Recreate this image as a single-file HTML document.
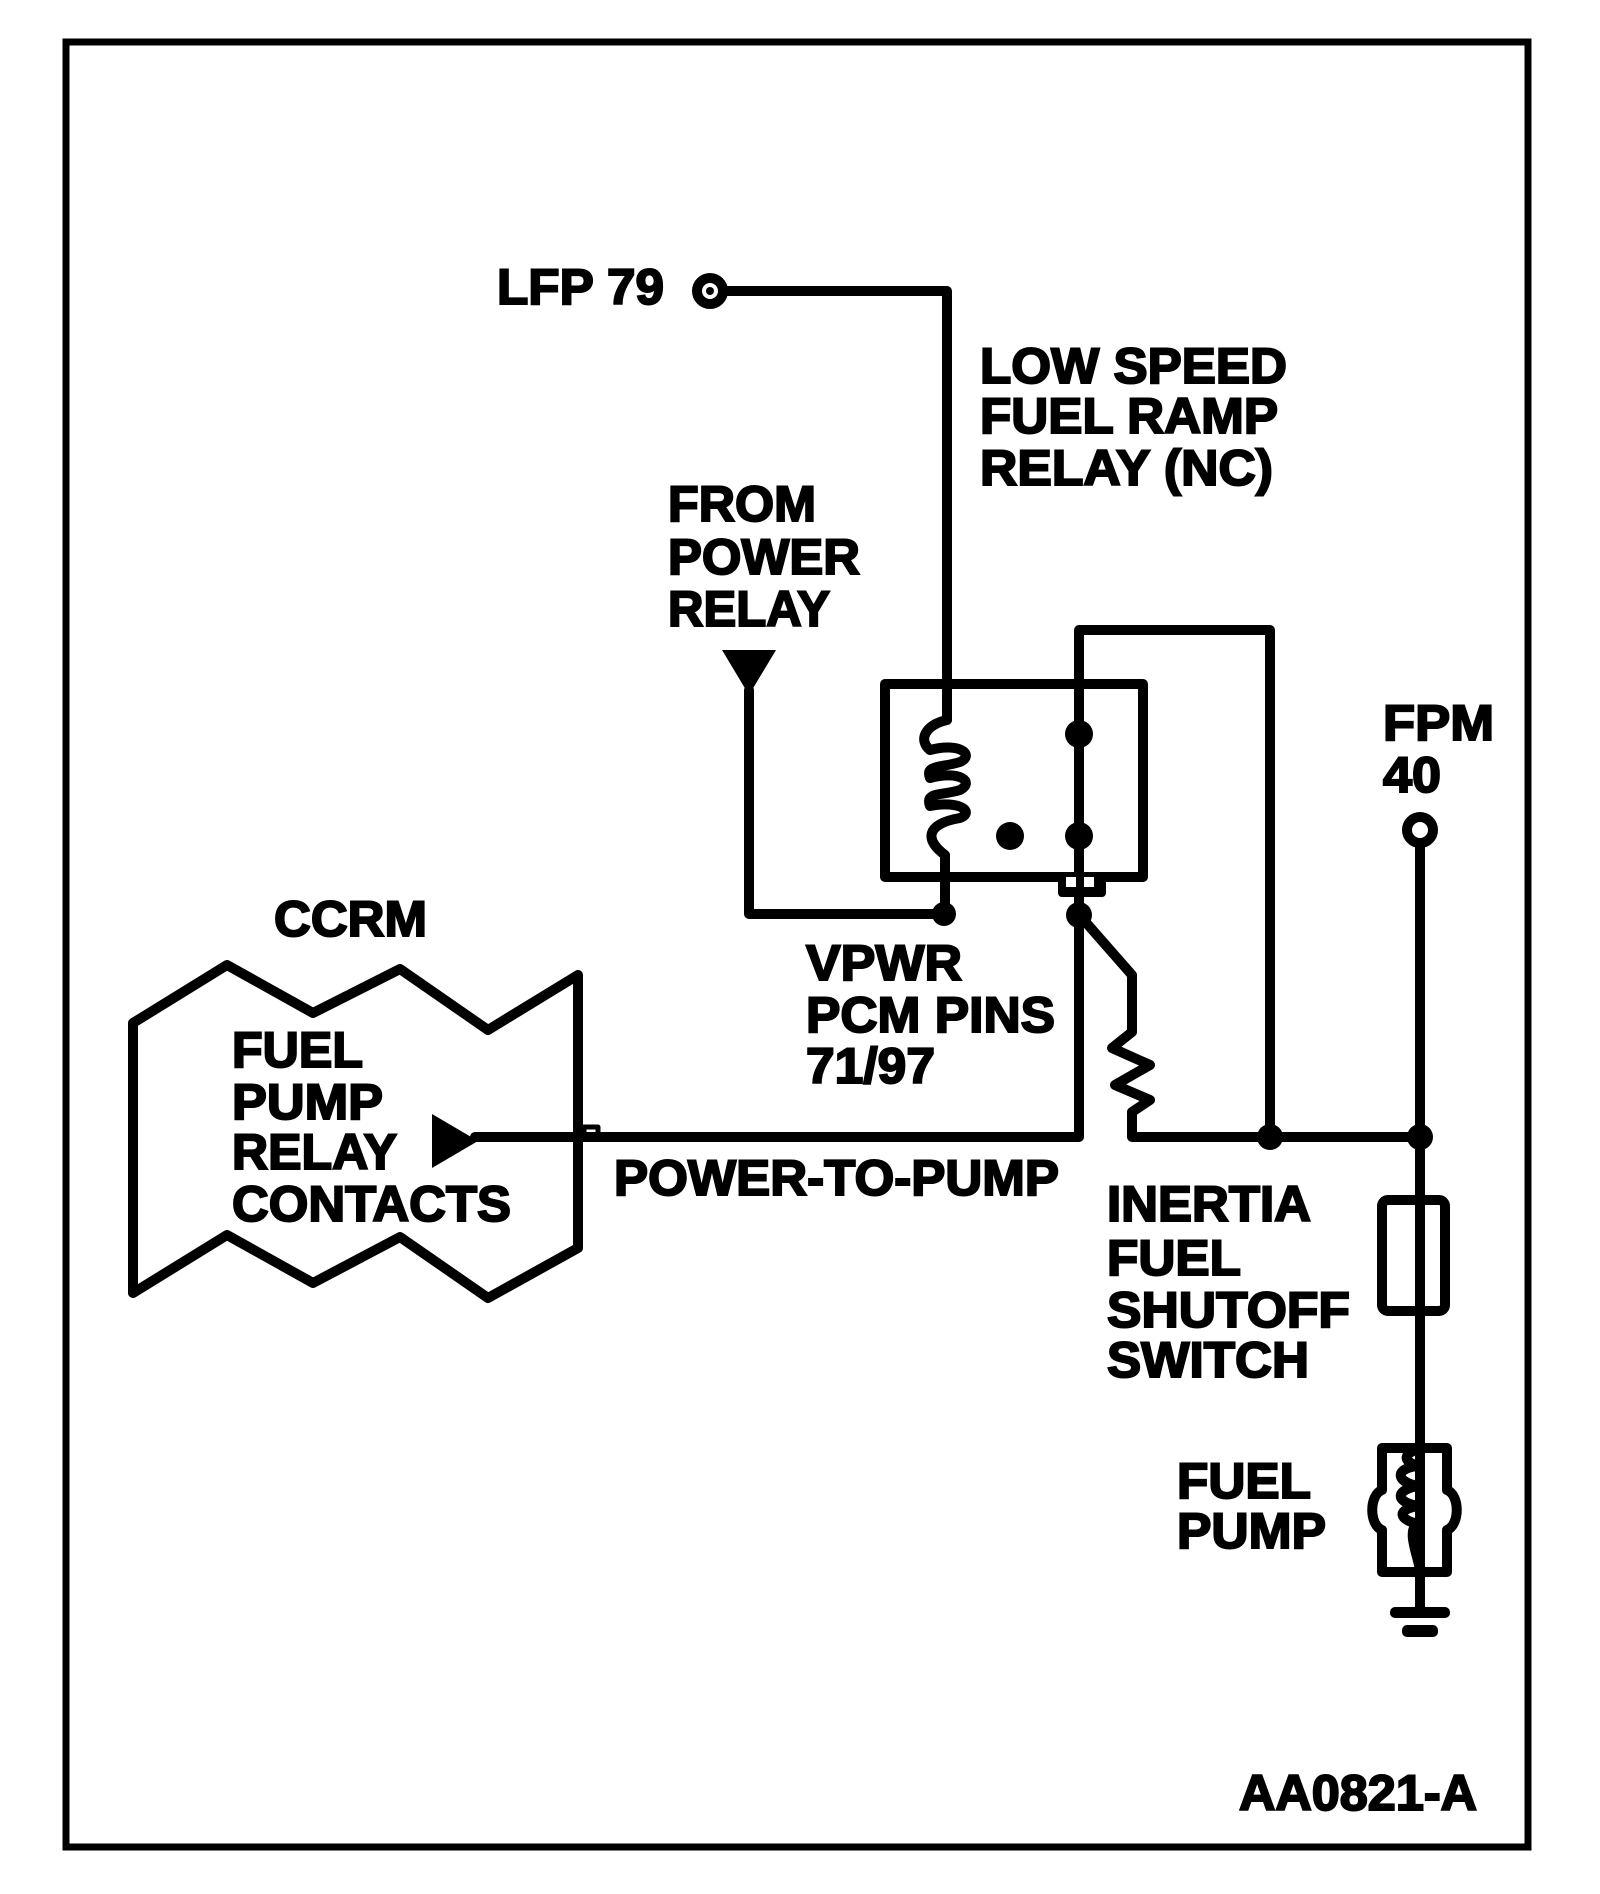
<!DOCTYPE html>
<html><head><meta charset="utf-8"><style>
html,body{margin:0;padding:0;background:#fff}
svg{display:block}
text{font-family:"Liberation Sans",sans-serif;font-weight:bold;font-size:50px;fill:#000;stroke:#000;stroke-width:2}
</style></head><body>
<svg width="1600" height="1894" viewBox="0 0 1600 1894" xmlns="http://www.w3.org/2000/svg">
<rect width="1600" height="1894" fill="#fff"/>
<rect x="66" y="42" width="1462" height="1805" fill="none" stroke="#000" stroke-width="7"/>
<g fill="none" stroke="#000" stroke-width="10" stroke-linejoin="round" stroke-linecap="round">
<circle cx="710" cy="291" r="13"/>
<path d="M723 291 H947 V720"/>
<path d="M947 720 C925 725 918 740 930 750 C960 742 975 755 960 762 C940 768 925 765 930 778 C960 770 975 782 960 790 C940 796 925 792 930 806 C960 800 975 812 960 818 C925 824 925 840 945 855 V914"/>
<rect x="885" y="684" width="258" height="193"/>
<path d="M749 690 V914 H944"/>
<path d="M1079 915 V630 H1270 V1137"/>
<path d="M1079 915 V1137 H475"/>
<path d="M1082 918 L1132 975 V1032 L1112 1048 L1150 1065 L1115 1085 L1150 1100 L1132 1112 V1137 H1420"/>
<circle cx="1420" cy="830" r="13"/>
<path d="M1420 843 V1612"/>
<rect x="1382" y="1200" width="63" height="111" rx="6"/>
<path d="M1382 1448 H1447 V1490 C1460 1495 1460 1525 1447 1530 V1572 H1382 V1530 C1369 1525 1369 1495 1382 1490 Z"/>
<path d="M1420 1448 C1400 1455 1405 1462 1418 1466 C1395 1468 1395 1482 1418 1486 C1395 1490 1395 1502 1418 1506 C1395 1510 1400 1520 1418 1524 C1405 1530 1420 1560 1420 1572"/>
<path d="M133 1023 L227 965 L313 1013 L400 969 L488 1030 L578 975 V1248 L488 1298 L400 1237 L313 1283 L227 1235 L133 1293 Z"/>
<rect x="584" y="1127" width="14" height="9" stroke-width="5"/>
</g>
<g fill="#000">
<circle cx="710" cy="291" r="4"/>
<circle cx="944" cy="914" r="12"/>
<circle cx="1079" cy="734" r="14"/>
<circle cx="1079" cy="836" r="14"/>
<circle cx="1010" cy="836" r="14"/>
<circle cx="1079" cy="915" r="13"/>
<circle cx="1270" cy="1137" r="13"/>
<circle cx="1420" cy="1137" r="13"/>
<path d="M722 650 H776 L749 695 Z"/>
<path d="M432 1114 L432 1168 L478 1141 Z"/>
<rect x="1058" y="872" width="48" height="25" rx="4"/>
<rect x="1390" y="1607" width="60" height="11" rx="5"/>
<rect x="1402" y="1625" width="36" height="12" rx="5"/>
</g>
<g fill="#fff"><rect x="1066" y="877" width="10" height="10"/><rect x="1084" y="877" width="10" height="10"/></g>
<text x="497" y="304" textLength="167" lengthAdjust="spacingAndGlyphs">LFP 79</text>
<text x="980" y="383" textLength="307" lengthAdjust="spacingAndGlyphs">LOW SPEED</text>
<text x="980" y="433" textLength="298" lengthAdjust="spacingAndGlyphs">FUEL RAMP</text>
<text x="980" y="485" textLength="293" lengthAdjust="spacingAndGlyphs">RELAY (NC)</text>
<text x="668" y="521" textLength="148" lengthAdjust="spacingAndGlyphs">FROM</text>
<text x="668" y="574" textLength="192" lengthAdjust="spacingAndGlyphs">POWER</text>
<text x="668" y="626" textLength="162" lengthAdjust="spacingAndGlyphs">RELAY</text>
<text x="806" y="980" textLength="156" lengthAdjust="spacingAndGlyphs">VPWR</text>
<text x="806" y="1032" textLength="249" lengthAdjust="spacingAndGlyphs">PCM PINS</text>
<text x="806" y="1083" textLength="129" lengthAdjust="spacingAndGlyphs">71/97</text>
<text x="614" y="1195" textLength="445" lengthAdjust="spacingAndGlyphs">POWER-TO-PUMP</text>
<text x="1107" y="1221" textLength="204" lengthAdjust="spacingAndGlyphs">INERTIA</text>
<text x="1107" y="1275" textLength="134" lengthAdjust="spacingAndGlyphs">FUEL</text>
<text x="1107" y="1327" textLength="243" lengthAdjust="spacingAndGlyphs">SHUTOFF</text>
<text x="1107" y="1377" textLength="202" lengthAdjust="spacingAndGlyphs">SWITCH</text>
<text x="1383" y="740" textLength="111" lengthAdjust="spacingAndGlyphs">FPM</text>
<text x="1383" y="792" textLength="58" lengthAdjust="spacingAndGlyphs">40</text>
<text x="1177" y="1498" textLength="134" lengthAdjust="spacingAndGlyphs">FUEL</text>
<text x="1177" y="1548" textLength="149" lengthAdjust="spacingAndGlyphs">PUMP</text>
<text x="274" y="936" textLength="153" lengthAdjust="spacingAndGlyphs">CCRM</text>
<text x="232" y="1067" textLength="131" lengthAdjust="spacingAndGlyphs">FUEL</text>
<text x="232" y="1119" textLength="151" lengthAdjust="spacingAndGlyphs">PUMP</text>
<text x="232" y="1169" textLength="165" lengthAdjust="spacingAndGlyphs">RELAY</text>
<text x="232" y="1221" textLength="279" lengthAdjust="spacingAndGlyphs">CONTACTS</text>
<text x="1239" y="1810" textLength="238" lengthAdjust="spacingAndGlyphs">AA0821-A</text>
</svg>
</body></html>
